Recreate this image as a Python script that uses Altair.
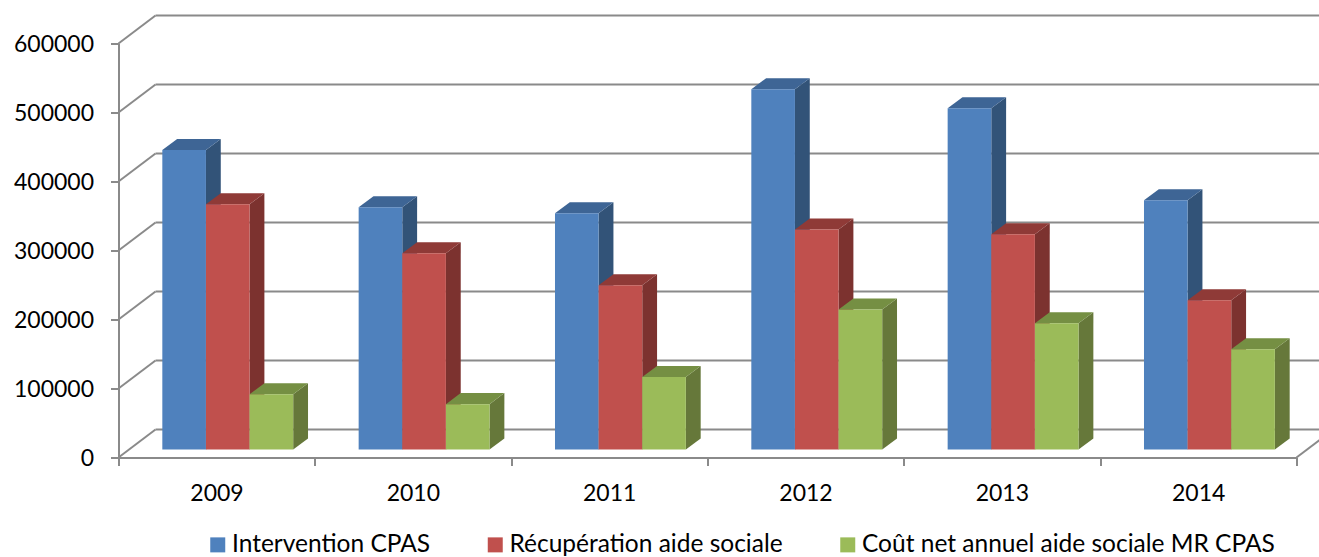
import json

import altair as alt
import pandas as pd

YEARS = ["2009", "2010", "2011", "2012", "2013", "2014"]
SERIES = [
    "Intervention CPAS",
    "Récupération aide sociale",
    "Coût net annuel aide sociale MR CPAS",
]
INTERVENTION = [434000, 351000, 342500, 522000, 494600, 361300]
RECUPERATION = [355500, 284500, 238000, 318800, 312000, 216400]
COUT_NET = [80100, 65700, 105000, 202900, 183000, 145400]
VALUES = [INTERVENTION, RECUPERATION, COUT_NET]
LEVELS = [0, 100000, 200000, 300000, 400000, 500000, 600000]

FRONT = ["#4F81BD", "#C0504D", "#9BBB59"]
TOP = ["#3E6595", "#8F3A37", "#758F43"]
SIDE = ["#325378", "#7C322F", "#66783A"]
GRID = "#8A8A8A"

# Oblique projection, in axis units: how far a point moves per unit of depth.
WALL_DX, WALL_DY = 0.1885, 40600
BAR_DX, BAR_DY = 0.0755, 16000
PLANE_DX, PLANE_DY = 0.0535, 11600
BAR_W = 0.2222
GROUP_START = 0.2232

x_scale = alt.Scale(domain=[0, 6], nice=False, zero=False)
y_scale = alt.Scale(domain=[0, 600000], nice=False, zero=False)


def faces(s):
    """Front, top and side geometry for every bar of series number s."""
    front, top, side = [], [], []
    for i, v in enumerate(VALUES[s]):
        x0 = i + GROUP_START + s * BAR_W
        x1 = x0 + BAR_W
        y0 = PLANE_DY
        y1 = v + PLANE_DY
        front.append(dict(serie=SERIES[s], x=x0, x2=x1, y=y0, y2=y1))
        top.append(dict(bar=i, y=y1, x=x0, x2=x1))
        top.append(dict(bar=i, y=y1 + BAR_DY, x=x0 + BAR_DX, x2=x1 + BAR_DX))
        side.append(dict(bar=i, x=x1, y=y0, y2=y1))
        side.append(dict(bar=i, x=x1 + BAR_DX, y=y0 + BAR_DY, y2=y1 + BAR_DY))
    return pd.DataFrame(front), pd.DataFrame(top), pd.DataFrame(side)


X = alt.X("x:Q", scale=x_scale, title=None)
Y = alt.Y("y:Q", scale=y_scale, title=None, stack=None)

labels_expr = json.dumps(YEARS) + "[datum.value] || ''"
axes = (
    alt.Chart(pd.DataFrame({"x": [0.0], "y": [0.0]}))
    .mark_point(opacity=0)
    .encode(
        x=alt.X(
            "x:Q",
            scale=x_scale,
            title=None,
            axis=alt.Axis(
                values=list(range(7)),
                labelExpr=labels_expr,
                labelOffset=98,
                labelPadding=17,
                tickSize=8,
                tickWidth=2,
                tickColor=GRID,
                domainColor=GRID,
                domainWidth=2,
                grid=False,
                labelFont="Lato",
                labelFontSize=23,
                labelColor="#000000",
                labelFlush=False,
                labelOverlap=False,
                labelBound=False,
            ),
        ),
        y=alt.Y(
            "y:Q",
            scale=y_scale,
            title=None,
            axis=alt.Axis(
                values=LEVELS,
                format="d",
                labelPadding=17,
                labelOffset=1,
                tickSize=8,
                tickWidth=2,
                tickColor=GRID,
                domainColor=GRID,
                domainWidth=2,
                grid=False,
                labelFont="Lato",
                labelFontSize=23,
                labelColor="#000000",
                labelOverlap=False,
            ),
        ),
    )
)

# Back wall and floor edge
wall_lines = (
    alt.Chart(
        pd.DataFrame(
            {"y": [v + WALL_DY for v in LEVELS], "x": [WALL_DX] * 7, "x2": [6 + WALL_DX] * 7}
        )
    )
    .mark_rule(color=GRID, strokeWidth=2)
    .encode(x=X, x2="x2:Q", y=Y)
)

diagonals = []
for v in LEVELS:
    diagonals.append(dict(level=v, x=0.0, y=v))
    diagonals.append(dict(level=v, x=WALL_DX, y=v + WALL_DY))
diagonals.append(dict(level=-1, x=6.0, y=0))
diagonals.append(dict(level=-1, x=6 + WALL_DX, y=WALL_DY))
wall_edges = (
    alt.Chart(pd.DataFrame(diagonals))
    .mark_line(color=GRID, strokeWidth=2)
    .encode(x=X, y=Y, detail="level:N")
)

layers = [axes, wall_lines, wall_edges]

color = alt.Color(
    "serie:N",
    scale=alt.Scale(domain=SERIES, range=FRONT),
    sort=SERIES,
    legend=alt.Legend(
        orient="none",
        legendX=87,
        legendY=489,
        direction="horizontal",
        columns=3,
        columnPadding=52.5,
        title=None,
        symbolType="square",
        symbolSize=225,
        symbolStrokeWidth=0,
        labelOffset=2,
        labelFont="Lato",
        labelFontSize=24.5,
        labelColor="#000000",
        labelLimit=500,
        padding=0,
    ),
)

# Painted series by series so each bar's front hides its neighbour's side
for s in range(3):
    front, top, side = faces(s)
    layers.append(
        alt.Chart(side)
        .mark_area(color=SIDE[s], opacity=1)
        .encode(x=X, y=Y, y2="y2:Q", detail="bar:N")
    )
    layers.append(
        alt.Chart(top)
        .mark_area(color=TOP[s], opacity=1, orient="horizontal")
        .encode(
            y=alt.Y("y:Q", scale=y_scale, title=None),
            x=alt.X("x:Q", scale=x_scale, title=None, stack=None),
            x2="x2:Q",
            detail="bar:N",
        )
    )
    layers.append(
        alt.Chart(front)
        .mark_rect(opacity=1)
        .encode(x=X, x2="x2:Q", y=Y, y2="y2:Q", color=color)
    )

chart = (
    alt.layer(*layers)
    .properties(
        width=1178,
        height=414,
        padding={"left": 118.5, "top": 43.5, "right": 22.5, "bottom": 99.5},
        autosize=alt.AutoSizeParams(type="none"),
        background="#FFFFFF",
    )
    .configure_view(stroke=None)
)

chart.save("out.html", embed_options={"renderer": "svg", "actions": False})
